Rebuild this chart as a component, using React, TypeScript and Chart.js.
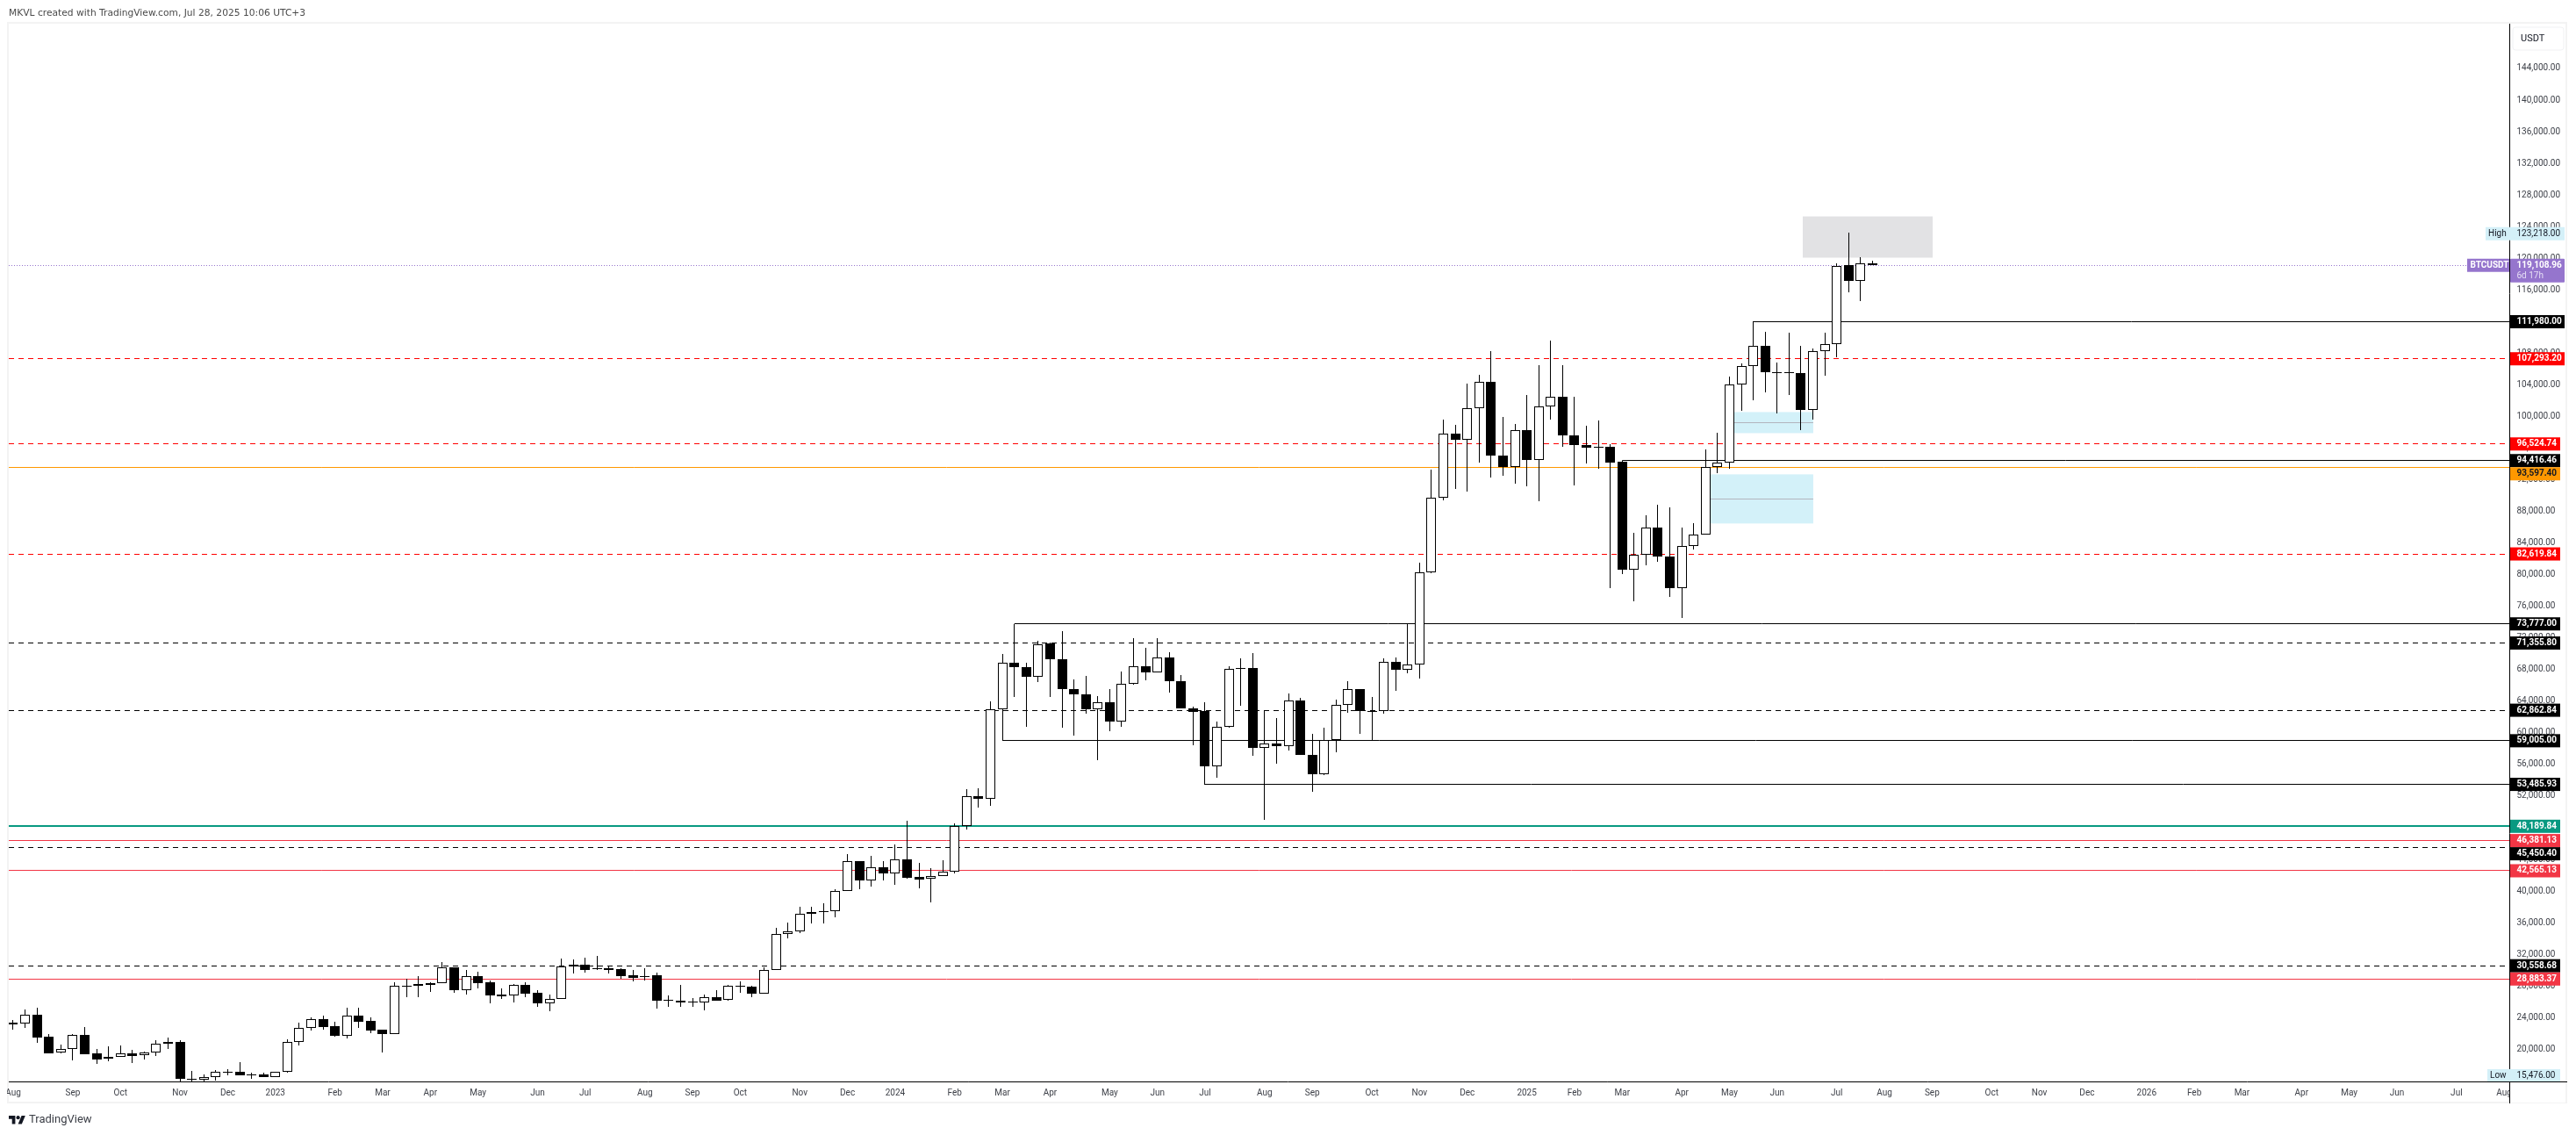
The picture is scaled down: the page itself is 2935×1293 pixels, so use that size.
import { Chart, registerables } from "chart.js";
import { useEffect, useRef } from "react";

Chart.register(...registerables);

// weekly BTCUSDT candles, first bar is the week of 1 Aug 2022
const opens = [
  23360, 23212, 24359, 21586, 19552, 19996, 21771, 19442, 18776, 18998, 19442, 19220, 19552, 20662, 20883, 16299,
  16188, 16447, 17112, 17112, 16779, 16779, 16521, 17112, 20883, 22658, 23767, 22880, 21734, 24211, 23545, 22436,
  21955, 27982, 27982, 28314, 28314, 30311, 27501, 29202, 28425, 26872, 26762, 28093, 27094, 25837, 26318, 30422,
  30643, 30200, 30200, 30089, 29313, 29091, 29313, 26207, 26096, 25985, 25874, 26540, 26207, 27982, 27871, 27057,
  29978, 34525, 34932, 37076, 37409, 37409, 39960, 43731, 41365, 42954, 42252, 43953, 41734, 41513, 41919, 42474,
  48278, 52049, 51679, 63029, 68907, 68353, 67133, 71310, 69351, 65580, 64915, 63029, 63916, 61476, 66246, 68464,
  67687, 69573, 66578, 63140, 62807, 55820, 60811, 68205, 68242, 58149, 58704, 58371, 64138, 57262, 54785, 59147,
  63584, 65580, 62770, 62807, 69018, 67983, 68649, 80295, 89722, 97856, 97043, 101072, 104400, 95083, 93604, 98300,
  94492, 101257, 102514, 97634, 96414, 96192, 96192, 94270, 80665, 82550, 85989, 82328, 78299, 83659, 85101, 93641,
  94196, 104030, 106396, 108947, 105583, 105620, 105509, 100813, 108281, 109169, 119108, 117119, 119374,
];
const highs = [
  23656, 25024, 25246, 21882, 20588, 21882, 22806, 20033, 20366, 20477, 19922, 19663, 21105, 21475, 21142, 17260,
  16817, 17371, 17519, 18369, 17075, 17002, 17112, 21216, 23360, 23989, 24248, 23471, 25246, 25246, 24026, 22510,
  28425, 28869, 29239, 28425, 31013, 30385, 30015, 29793, 28647, 27686, 28240, 28425, 27427, 26872, 31420, 31346,
  31568, 31790, 30533, 30200, 29978, 30237, 29682, 26762, 28129, 26466, 26909, 27427, 28093, 28610, 28019, 30311,
  35302, 36004, 37963, 37963, 38444, 40182, 44618, 43731, 44396, 43768, 45875, 48944, 43546, 42844, 43842, 48611,
  52862, 52973, 63953, 69943, 73777, 68907, 71680, 71384, 72826, 66800, 67170, 64693, 65506, 67724, 71939, 70719,
  71939, 70164, 67281, 63362, 63842, 61402, 68427, 69388, 70053, 62807, 61883, 64952, 64471, 59850, 60626, 64175,
  66504, 65580, 64508, 69388, 69499, 73777, 81478, 93235, 99557, 98891, 104104, 105213, 108281, 99889, 99002, 102662,
  106433, 109538, 106433, 102440, 98780, 99446, 96451, 94416, 85249, 87467, 88798, 88466, 85989, 86469, 95786, 97893,
  104991, 106655, 111980, 110648, 106766, 110537, 108873, 108540, 110537, 119411, 123218, 120187, 119744,
];
const lows = [
  22510, 22732, 20846, 19450, 19500, 18628, 19380, 18185, 18517, 18998, 18295, 18702, 19183, 20070, 15600, 15782,
  15800, 16077, 16706, 16743, 16299, 16447, 16521, 17000, 20514, 22399, 22510, 21623, 21401, 22695, 22029, 19589,
  21882, 26577, 26577, 27279, 28314, 27168, 26946, 27723, 25800, 26392, 25948, 26614, 25357, 24839, 26318, 29571,
  29719, 30052, 29608, 28906, 28610, 28721, 25172, 25394, 25394, 25394, 24950, 26170, 26096, 27168, 26577, 27057,
  29978, 34045, 34700, 35930, 35900, 36670, 39960, 40256, 40551, 41365, 40773, 41587, 40330, 38592, 41882, 42252,
  47761, 50533, 50829, 59005, 64508, 60774, 66430, 64545, 60626, 59665, 62438, 56522, 60219, 60774, 66098, 66615,
  67687, 65063, 63103, 58408, 53485, 54304, 60626, 63399, 57077, 49018, 56116, 57779, 57225, 52567, 54674, 57521,
  62549, 59887, 58962, 62438, 65284, 67539, 66874, 80184, 89353, 90795, 90462, 94122, 92273, 92458, 91460, 91127,
  89279, 99557, 96155, 91275, 94048, 93346, 78262, 80073, 76598, 81182, 81626, 77153, 74491, 83142, 85101, 92828,
  93346, 100666, 101997, 102995, 100333, 102662, 98226, 99557, 105102, 107433, 115751, 114642, 119108,
];
const closes = [
  23175, 24322, 21512, 19515, 19996, 21771, 19405, 18739, 18998, 19442, 19183, 19552, 20662, 20883, 16299, 16262,
  16447, 17112, 17149, 16743, 16750, 16521, 17112, 20883, 22658, 23767, 22843, 21734, 24211, 23508, 22399, 21955,
  27982, 27945, 28203, 28166, 30311, 27501, 29202, 28388, 26836, 26725, 28093, 27057, 25837, 26318, 30422, 30643,
  30052, 30126, 30052, 29276, 29054, 29276, 26170, 26170, 25948, 25874, 26540, 26170, 27982, 27945, 27057, 29978,
  34525, 34932, 37076, 37298, 37350, 39960, 43731, 41365, 42954, 42252, 43953, 41697, 41476, 41919, 42474, 48278,
  52049, 51679, 63029, 68907, 68316, 67096, 71236, 69314, 65543, 64878, 62992, 63916, 61439, 66209, 68464, 67650,
  69573, 66541, 63103, 62659, 55783, 60811, 68131, 68242, 58112, 58667, 58334, 64138, 57225, 54785, 59147, 63584,
  65580, 62770, 62807, 69018, 67983, 68649, 80332, 89759, 97856, 97043, 101072, 104400, 95046, 93604, 98300, 94492,
  101294, 102514, 97597, 96377, 96044, 96044, 94159, 80628, 82550, 85989, 82292, 78299, 83659, 85101, 93641, 94196,
  104067, 106396, 108947, 105583, 105620, 105472, 100813, 108281, 109169, 119041, 117119, 119374, 119108,
];

const monthLabels = [
  "Aug", "Sep", "Oct", "Nov", "Dec", "2023", "Feb", "Mar", "Apr", "May", "Jun", "Jul", "Aug", "Sep", "Oct", "Nov",
  "Dec", "2024", "Feb", "Mar", "Apr", "May", "Jun", "Jul", "Aug", "Sep", "Oct", "Nov", "Dec", "2025", "Feb", "Mar",
  "Apr", "May", "Jun", "Jul", "Aug", "Sep", "Oct", "Nov", "Dec", "2026", "Feb", "Mar", "Apr", "May", "Jun", "Jul", "Aug",
];
// week number where each month label sits
const monthBars = [
  0, 5, 9, 14, 18, 22, 27, 31, 35, 39, 44, 48, 53, 57, 61, 66, 70, 74, 79, 83, 87, 92, 96, 100, 105, 109, 114, 118,
  122, 127, 131, 135, 140, 144, 148, 153, 157, 161, 166, 170, 174, 179, 183, 187, 192, 196, 200, 205, 209,
];

const priceTicks = [
  144000, 140000, 136000, 132000, 128000, 124000, 120000, 116000, 112000, 108000, 104000, 100000, 96000, 92000, 88000,
  84000, 80000, 76000, 72000, 68000, 64000, 60000, 56000, 52000, 48000, 44000, 40000, 36000, 32000, 28000, 24000, 20000,
];

// horizontal levels, null start means the line runs the full width
const levelPrices = [
  111980, 107293.2, 96524.74, 94416.46, 93597.4, 82619.84, 73777, 71355.8, 62862.84, 59005, 53485.93, 48189.84,
  46381.13, 45450.4, 42565.13, 30558.68, 28883.37,
];
const levelStarts = [146, null, null, 135, null, null, 84, null, null, 83, 100, null, null, null, null, null, null];
const levelKinds = [
  "box", "redDash", "redDash", "box", "orange", "redDash", "box", "blackDash", "blackDash", "box", "box", "teal",
  "red", "blackDash", "red", "blackDash", "red",
];
const lastPrice = 119108.96;
const highPrice = 123218;
const lowPrice = 15476;

const levelStyles: Record<string, any> = {
  box: { color: "#000000", text: "#ffffff", width: 1, dash: [] },
  blackDash: { color: "#000000", text: "#ffffff", width: 1, dash: [6, 5] },
  redDash: { color: "#ff0000", text: "#ffffff", width: 1, dash: [6, 5] },
  red: { color: "#f23645", text: "#ffffff", width: 1, dash: [] },
  orange: { color: "#ff9800", text: "#131722", width: 1, dash: [] },
  teal: { color: "#089981", text: "#ffffff", width: 2, dash: [] },
};

// shaded zones: [first week, last week, top price, bottom price]
const grayZone = [150.15, 161.05, 125290, 120076];
const blueZones = [
  [144, 151.03, 100555, 97893],
  [142, 151.03, 92680, 86469],
];

const X_MIN = -0.368;
const X_MAX = 209.43;
const TAG_FONT = "bold 10px Roboto";
const AXIS_FONT = "10px Roboto";
const AXIS_COLOR = "#3c3f47";
const LOGO = "M14 22H7V11H0V4h14v18zM28 22h-8l7.5-18h8L28 22z";

const money = (v: number) =>
  v.toLocaleString("en-US", { minimumFractionDigits: 2, maximumFractionDigits: 2 });

// keep the 1px marks on whole pixels, TradingView draws them crisp
const snapPlugin = {
  id: "snap",
  afterDatasetsUpdate(chart: any) {
    chart.data.datasets.forEach((ds: any, i: number) => {
      const meta = chart.getDatasetMeta(i);
      if (meta.type === "bar") {
        meta.data.forEach((el: any) => {
          el.x = Math.floor(el.x) + 0.5;
          el.y = Math.round(el.y);
          el.base = Math.round(el.base);
          if (el.y === el.base) el.base = el.y + 1;
        });
      } else {
        const even = ds.borderWidth % 2 === 0;
        meta.data.forEach((el: any) => {
          el.y = even ? Math.round(el.y) : Math.floor(el.y) + 0.5;
        });
      }
    });
  },
};

const framePlugin = {
  id: "frame",
  beforeDraw(chart: any) {
    const { ctx, chartArea } = chart;
    ctx.save();
    ctx.strokeStyle = "#f3f3f3";
    ctx.lineWidth = 2;
    ctx.strokeRect(chartArea.left - 1, chartArea.top - 1, 2925 - chartArea.left, 1257 - chartArea.top);
    ctx.fillStyle = "#4a4a4a";
    ctx.font = "10.7px 'DejaVu Sans'";
    ctx.textBaseline = "middle";
    ctx.fillText("MKVL created with TradingView.com, Jul 28, 2025 10:06 UTC+3", 10, 15);
    ctx.restore();
  },
  beforeDatasetsDraw(chart: any) {
    const { ctx, scales } = chart;
    const { x, y } = scales;
    ctx.save();
    ctx.fillStyle = "#e2e2e4";
    const gx = x.getPixelForValue(grayZone[0]);
    const gy = y.getPixelForValue(grayZone[2]);
    ctx.fillRect(gx, gy, x.getPixelForValue(grayZone[1]) - gx, y.getPixelForValue(grayZone[3]) - gy);
    blueZones.forEach((z) => {
      const left = x.getPixelForValue(z[0]);
      const right = x.getPixelForValue(z[1]);
      const top = y.getPixelForValue(z[2]);
      const bottom = y.getPixelForValue(z[3]);
      ctx.fillStyle = "#d3f1f9";
      ctx.fillRect(left, top, right - left, bottom - top);
      const mid = Math.floor((top + bottom) / 2) + 0.5;
      ctx.strokeStyle = "#b2b5be";
      ctx.lineWidth = 1;
      ctx.beginPath();
      ctx.moveTo(left, mid);
      ctx.lineTo(right, mid);
      ctx.stroke();
    });
    ctx.restore();
  },
  afterDraw(chart: any) {
    const { ctx, chartArea, scales } = chart;
    const y = scales.y;
    const axisX = chartArea.right;
    const axisY = chartArea.bottom;
    ctx.save();

    // labels at both ends of the time axis are cut by the pane
    ctx.fillStyle = "#ffffff";
    ctx.fillRect(0, axisY + 1, chartArea.left - 2, 24);
    ctx.fillRect(axisX, axisY + 1, 64, 23);

    ctx.strokeStyle = "#000000";
    ctx.lineWidth = 1;
    ctx.beginPath();
    ctx.moveTo(axisX + 0.5, chartArea.top);
    ctx.lineTo(axisX + 0.5, 1257);
    ctx.moveTo(chartArea.left, axisY + 0.5);
    ctx.lineTo(2925, axisY + 0.5);
    ctx.stroke();

    ctx.textBaseline = "middle";
    const tagLeft = axisX + 1;
    const textLeft = 2867.5;

    // currency box
    ctx.strokeStyle = "#f0f1f3";
    ctx.beginPath();
    ctx.roundRect(2863, 31, 58, 26, 3);
    ctx.stroke();
    ctx.fillStyle = "#131722";
    ctx.font = "11px Roboto";
    ctx.fillText("USDT", 2872, 44.5);

    // high and low markers
    ctx.font = AXIS_FONT;
    const hy = y.getPixelForValue(highPrice) + 1;
    ctx.fillStyle = "#d4f0f8";
    ctx.fillRect(2832, hy - 7.5, 90, 15);
    ctx.fillStyle = "#131722";
    ctx.fillText("High", 2835, hy);
    ctx.fillText(money(highPrice), textLeft, hy);
    ctx.fillStyle = "#d4f0f8";
    ctx.fillRect(2834, 1218, 83, 14);
    ctx.fillStyle = "#131722";
    ctx.fillText("Low", 2837, 1225.5);
    ctx.fillText(money(lowPrice), textLeft, 1225);

    // last price, symbol and countdown
    const ly = y.getPixelForValue(lastPrice);
    ctx.fillStyle = "#9575cd";
    ctx.fillRect(2811, ly - 7.5, 48, 15);
    ctx.beginPath();
    ctx.roundRect(tagLeft, ly - 7.5, 62, 27, 1);
    ctx.fill();
    ctx.font = TAG_FONT;
    ctx.fillStyle = "#ffffff";
    ctx.fillText("BTCUSDT", 2814.5, ly);
    ctx.fillText(money(lastPrice), textLeft, ly);
    ctx.font = AXIS_FONT;
    ctx.fillStyle = "#e6def5";
    ctx.fillText("6d 17h", textLeft, ly + 12);

    // level tags, a tag that would overlap the one above gets pushed down
    let prev = -100;
    levelPrices.forEach((p, i) => {
      const st = levelStyles[levelKinds[i]];
      const tagY = Math.max(y.getPixelForValue(p), prev + 15);
      prev = tagY;
      const w = p >= 100000 ? 62 : 57;
      ctx.fillStyle = st.color;
      ctx.fillRect(tagLeft, tagY - 7.5, w, 15);
      ctx.fillStyle = st.text;
      ctx.font = TAG_FONT;
      ctx.fillText(money(p), textLeft, tagY);
    });

    // footer brand
    ctx.save();
    ctx.translate(10, 1268.9);
    ctx.scale(0.53, 0.53);
    ctx.fillStyle = "#131722";
    ctx.fill(new Path2D(LOGO));
    ctx.beginPath();
    ctx.arc(20, 8, 4, 0, Math.PI * 2);
    ctx.fill();
    ctx.restore();
    ctx.fillStyle = "#3a3d45";
    ctx.font = "13px Roboto";
    ctx.fillText("TradingView", 33, 1276);
    ctx.restore();
  },
};

const BtcChart = () => {
  const canvasRef = useRef<HTMLCanvasElement | null>(null);
  const chartRef = useRef<Chart | null>(null);

  useEffect(() => {
    if (!canvasRef.current) return;
    const ctx = canvasRef.current.getContext("2d");
    if (!ctx) return;

    const levelSets = levelPrices.map((p, i) => {
      const st = levelStyles[levelKinds[i]];
      const from = levelStarts[i];
      return {
        type: "line",
        data: [
          { x: from === null ? X_MIN : from, y: p },
          { x: X_MAX, y: p },
        ],
        borderColor: st.color,
        borderWidth: st.width,
        borderDash: st.dash,
        pointRadius: 0,
        order: 3,
      };
    });

    chartRef.current = new Chart(ctx, {
      type: "bar",
      data: {
        datasets: [
          {
            type: "line",
            data: [
              { x: X_MIN, y: lastPrice },
              { x: X_MAX, y: lastPrice },
            ],
            borderColor: "#9575cd",
            borderWidth: 1,
            borderDash: [1, 2],
            pointRadius: 0,
            order: 3,
          },
          ...levelSets,
          {
            data: lows.map((low, i) => ({ x: i, y: [low, highs[i]] })),
            backgroundColor: "#000000",
            barThickness: 1,
            borderWidth: 0,
            inflateAmount: 0,
            grouped: false,
            order: 2,
          },
          {
            data: opens.map((open, i) => ({ x: i, y: [open, closes[i]] })),
            backgroundColor: opens.map((open, i) => (closes[i] >= open ? "#ffffff" : "#000000")),
            borderColor: "#000000",
            borderWidth: 1,
            borderSkipped: false,
            barThickness: 11,
            inflateAmount: 0,
            grouped: false,
            order: 1,
          },
        ] as any,
      },
      options: {
        responsive: false,
        animation: false,
        devicePixelRatio: 1,
        layout: { padding: { left: 10, top: 27, right: 10, bottom: 36 } },
        plugins: { legend: { display: false }, tooltip: { enabled: false }, title: { display: false } },
        scales: {
          x: {
            type: "linear",
            min: X_MIN,
            max: X_MAX,
            offset: false,
            grid: { display: false, drawTicks: false },
            border: { display: false },
            afterBuildTicks: (axis: any) => {
              axis.ticks = monthBars.map((value) => ({ value }));
            },
            afterFit: (axis: any) => {
              axis.height = 25;
              axis.paddingLeft = 0;
              axis.paddingRight = 0;
            },
            ticks: {
              autoSkip: false,
              maxRotation: 0,
              padding: 7,
              color: AXIS_COLOR,
              font: { family: "Roboto", size: 10 },
              callback: (value: any) => monthLabels[monthBars.indexOf(value)],
            },
          },
          y: {
            position: "right",
            min: 15930,
            max: 149655,
            grid: { display: false, drawTicks: false },
            border: { display: false },
            afterBuildTicks: (axis: any) => {
              axis.ticks = priceTicks.map((value) => ({ value }));
            },
            afterFit: (axis: any) => {
              axis.width = 66;
              axis.paddingTop = 0;
              axis.paddingBottom = 0;
            },
            ticks: {
              autoSkip: false,
              padding: 8.5,
              color: AXIS_COLOR,
              font: { family: "Roboto", size: 10 },
              callback: (value: any) => money(value),
            },
          },
        },
      },
      plugins: [snapPlugin, framePlugin],
    } as any);

    return () => {
      chartRef.current?.destroy();
    };
  }, []);

  return (
    <div style={{ position: "absolute", left: 0, top: 0, width: 2935, height: 1293, background: "#ffffff" }}>
      <canvas ref={canvasRef} width={2935} height={1293} style={{ display: "block" }} />
    </div>
  );
};

export default BtcChart;
